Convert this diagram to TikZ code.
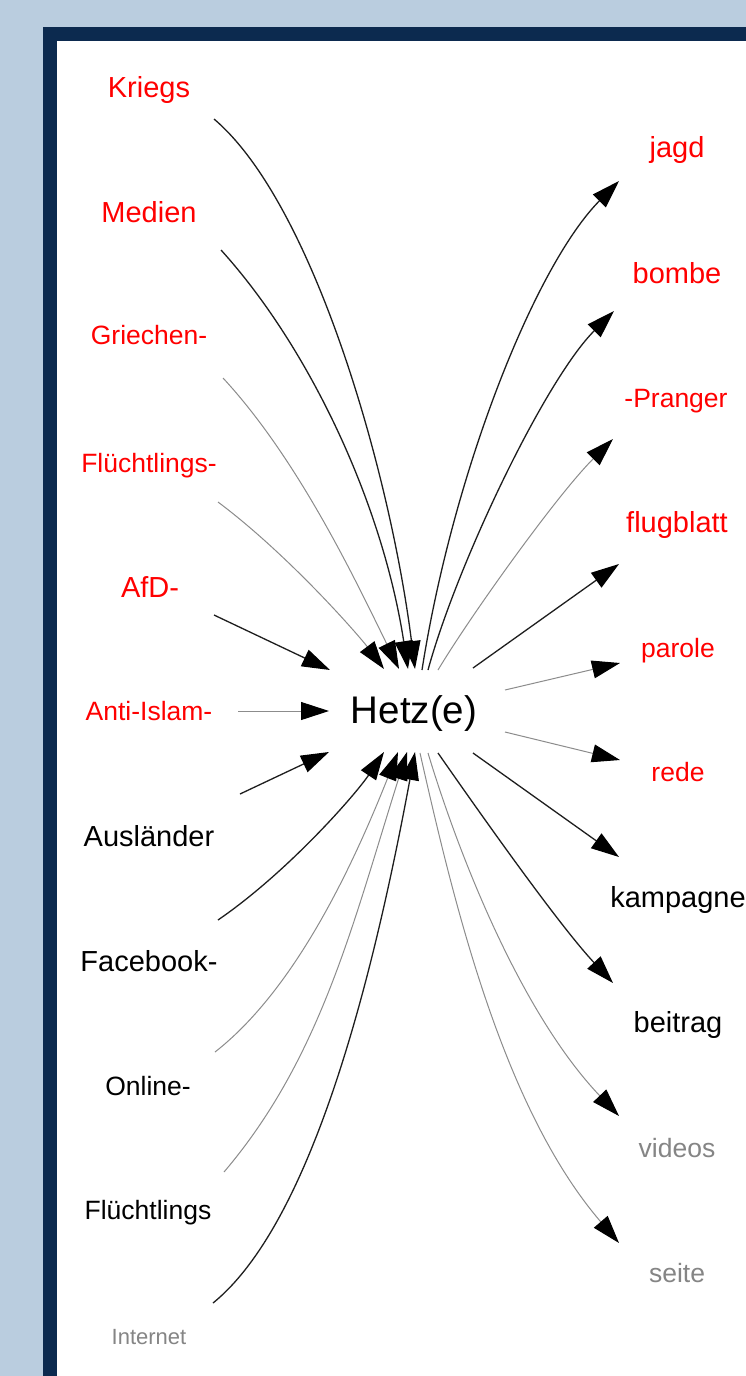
\documentclass[tikz,border=0pt]{standalone}
\usepackage{fontspec}
\setmainfont{Liberation Sans}
\usetikzlibrary{arrows.meta}
\definecolor{bgblue}{HTML}{BACDDF}
\definecolor{navy}{HTML}{0C2A4F}
\definecolor{lblred}{HTML}{FF0000}
\definecolor{lblgray}{HTML}{858585}
\definecolor{edgedark}{HTML}{1E1E1E}
\definecolor{edgelight}{HTML}{8C8C8C}
\begin{document}
\begin{tikzpicture}[x=1pt,y=-1pt,
  lbl/.style={anchor=base, inner sep=0pt},
  bigtxt/.style={font=\fontsize{29}{34}\selectfont},
  midtxt/.style={font=\fontsize{26.5}{31}\selectfont},
  smalltxt/.style={font=\fontsize{22}{26}\selectfont},
  redlbl/.style={text=lblred},
  blacklbl/.style={text=black},
  graylbl/.style={text=lblgray},
  tiphead/.style={-{Triangle[length=28pt,width=18pt,color=black]}},
  darkedge/.style={draw=edgedark, line width=1.3pt, tiphead},
  lightedge/.style={draw=edgelight, line width=1pt, tiphead}]
\useasboundingbox (0,0) rectangle (746,1376);
\clip (0,0) rectangle (746,1376);
\fill[bgblue] (0,0) rectangle (746,1376);
\fill[navy] (43,27) rectangle (800,1420);
\fill[white] (57,41) rectangle (800,1420);

% center
\node[lbl, font=\fontsize{38.5}{46}\selectfont] (hetz) at (414,723) {Hetz(e)};

% left labels
\node[lbl,bigtxt,redlbl]   (kriegs)  at (149,97)   {Kriegs};
\node[lbl,bigtxt,redlbl]   (medien)  at (149,222)  {Medien};
\node[lbl,midtxt,redlbl]   (griech)  at (149,344)  {Griechen-};
\node[lbl,midtxt,redlbl]   (fluechtA) at (149,472) {Flüchtlings-};
\node[lbl,bigtxt,redlbl]   (afd)     at (150,597)  {AfD-};
\node[lbl,midtxt,redlbl]   (antiis)  at (149,720)  {Anti-Islam-};
\node[lbl,bigtxt,blacklbl] (auslaend) at (149,846) {Ausländer};
\node[lbl,bigtxt,blacklbl] (facebook) at (149,971) {Facebook-};
\node[lbl,midtxt,blacklbl] (online)  at (148,1095) {Online-};
\node[lbl,midtxt,blacklbl] (fluechtB) at (148,1219) {Flüchtlings};
\node[lbl,smalltxt,graylbl] (internet) at (149,1344) {Internet};

% right labels
\node[lbl,bigtxt,redlbl]   (jagd)    at (677,157)  {jagd};
\node[lbl,bigtxt,redlbl]   (bombe)   at (677,283)  {bombe};
\node[lbl,midtxt,redlbl]   (pranger) at (676,407)  {-Pranger};
\node[lbl,bigtxt,redlbl]   (flugbl)  at (677,532)  {flugblatt};
\node[lbl,midtxt,redlbl]   (parole)  at (678,657)  {parole};
\node[lbl,midtxt,redlbl]   (rede)    at (678,781)  {rede};
\node[lbl,bigtxt,blacklbl] (kampagne) at (678,907) {kampagne};
\node[lbl,bigtxt,blacklbl] (beitrag) at (678,1032) {beitrag};
\node[lbl,midtxt,graylbl]  (videos)  at (677,1157) {videos};
\node[lbl,midtxt,graylbl]  (seite)   at (677,1282) {seite};

% edge end points
\coordinate (kriegs-e)   at (214,119);
\coordinate (medien-e)   at (221,250);
\coordinate (griech-e)   at (223,378);
\coordinate (fluechtA-e) at (218,502);
\coordinate (afd-e)      at (214,615);
\coordinate (antiis-e)   at (238,711);
\coordinate (auslaend-e) at (240,794);
\coordinate (facebook-e) at (218,920);
\coordinate (online-e)   at (215,1052);
\coordinate (fluechtB-e) at (224,1172);
\coordinate (internet-e) at (213,1303);

\coordinate (jagd-e)     at (619,181);
\coordinate (bombe-e)    at (614,311);
\coordinate (pranger-e)  at (613,439);
\coordinate (flugbl-e)   at (619,564);
\coordinate (parole-e)   at (620,663);
\coordinate (rede-e)     at (620,760);
\coordinate (kampagne-e) at (619,857);
\coordinate (beitrag-e)  at (613,983);
\coordinate (videos-e)   at (619,1116);
\coordinate (seite-e)    at (619,1243);

\coordinate (hetz-kr) at (415,669);
\coordinate (hetz-me) at (408,669);
\coordinate (hetz-gr) at (399,669);
\coordinate (hetz-fa) at (384,669);
\coordinate (hetz-af) at (330,670);
\coordinate (hetz-an) at (329,711);
\coordinate (hetz-au) at (329,752);
\coordinate (hetz-fb) at (384,752);
\coordinate (hetz-on) at (398,752);
\coordinate (hetz-fl) at (407,752);
\coordinate (hetz-in) at (415,752);

\coordinate (hetz-ja) at (422,670);
\coordinate (hetz-bo) at (428,670);
\coordinate (hetz-pr) at (438,670);
\coordinate (hetz-fg) at (473,668);
\coordinate (hetz-pa) at (505,690);
\coordinate (hetz-re) at (505,732);
\coordinate (hetz-ka) at (473,753);
\coordinate (hetz-be) at (438,753);
\coordinate (hetz-vi) at (428,753);
\coordinate (hetz-se) at (420,753);

% incoming edges
\draw[darkedge]  (kriegs-e) .. controls (313,203) and (390,471) .. (hetz-kr);
\draw[darkedge]  (medien-e) .. controls (308,346) and (382,501) .. (hetz-me);
\draw[lightedge] (griech-e) .. controls (298,459) and (355,579) .. (hetz-gr);
\draw[lightedge] (fluechtA-e) .. controls (290,556) and (360,637) .. (hetz-fa);
\draw[darkedge]  (afd-e) -- (hetz-af);
\draw[lightedge] (antiis-e) -- (hetz-an);
\draw[darkedge]  (auslaend-e) -- (hetz-au);
\draw[darkedge]  (facebook-e) .. controls (288,872) and (356,794) .. (hetz-fb);
\draw[lightedge] (online-e) .. controls (293,991) and (350,873) .. (hetz-on);
\draw[lightedge] (fluechtB-e) .. controls (321,1058) and (353,923) .. (hetz-fl);
\draw[darkedge]  (internet-e) .. controls (314,1221) and (375,968) .. (hetz-in);

% outgoing edges
\draw[darkedge]  (hetz-ja) .. controls (453,472) and (535,266) .. (jagd-e);
\draw[darkedge]  (hetz-bo) .. controls (457,564) and (545,380) .. (bombe-e);
\draw[lightedge] (hetz-pr) .. controls (469,618) and (556,496) .. (pranger-e);
\draw[darkedge]  (hetz-fg) -- (flugbl-e);
\draw[lightedge] (hetz-pa) -- (parole-e);
\draw[lightedge] (hetz-re) -- (rede-e);
\draw[darkedge]  (hetz-ka) -- (kampagne-e);
\draw[darkedge]  (hetz-be) .. controls (484,819) and (559,925) .. (beitrag-e);
\draw[lightedge] (hetz-vi) .. controls (460,859) and (522,1014) .. (videos-e);
\draw[lightedge] (hetz-se) .. controls (453,899) and (502,1107) .. (seite-e);
\end{tikzpicture}
\end{document}
